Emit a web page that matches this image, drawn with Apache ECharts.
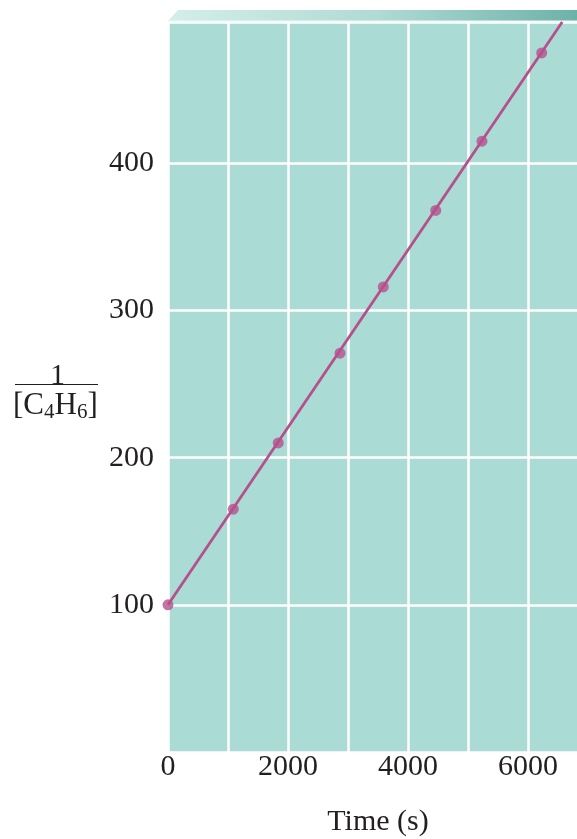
<!DOCTYPE html>
<html>
<head>
<meta charset="utf-8">
<style>
  html, body { margin: 0; padding: 0; background: #ffffff; }
  #chart { width: 577px; height: 839px; }
</style>
<script src="https://cdn.jsdelivr.net/npm/echarts@6/dist/echarts.min.js"></script>
</head>
<body>
<div id="chart"></div>
<script>
// Second-order plot for butadiene dimerisation: 1/[C4H6] against time
const times = [0, 1088, 1838, 2867, 3588, 4462, 5233, 6228];          // s
const inverseConc = [100, 165, 210, 271, 316, 368, 415, 475];         // 1/M
const fitLine = [[0, 100], [6570, 496]];                              // least-squares line
const xTickLabels = ['0', '2000', '4000', '6000'];
const yTickLabels = ['100', '200', '300', '400'];

const points = times.map((t, i) => [t, inverseConc[i]]);

const plotLeft = 168, plotTop = 22, plotWidth = 420, plotHeight = 730;
const ink = '#231f20';
const serif = '"Liberation Serif", "DejaVu Serif", serif';
const magenta = '#b5508c';

const chart = echarts.init(document.getElementById('chart'), null, { renderer: 'canvas' });

chart.setOption({
  animation: false,
  backgroundColor: '#ffffff',
  grid: {
    left: plotLeft, top: plotTop, width: plotWidth, height: plotHeight,
    containLabel: false, outerBoundsMode: 'none',
    show: true, backgroundColor: '#aadbd5', borderWidth: 0
  },
  xAxis: {
    type: 'value', min: 0, max: 7000, interval: 1000,
    axisLine: { show: false }, axisTick: { show: false },
    splitLine: { show: true, lineStyle: { color: '#ffffff', width: 2.5 } },
    axisLabel: {
      margin: 0, color: ink, fontFamily: serif, fontSize: 30,
      formatter: v => (xTickLabels.includes(String(v)) ? String(v) : '')
    },
    name: 'Time (s)', nameLocation: 'middle', nameGap: 55,
    nameTextStyle: { color: ink, fontFamily: serif, fontSize: 30 }
  },
  yAxis: {
    type: 'value', min: 0, max: 496, interval: 100,
    axisLine: { show: false }, axisTick: { show: false },
    splitLine: { show: true, lineStyle: { color: '#ffffff', width: 2.5 } },
    axisLabel: {
      margin: 14, color: ink, fontFamily: serif, fontSize: 30,
      formatter: v => (yTickLabels.includes(String(v)) ? String(v) : '')
    }
  },
  graphic: [
    // bevelled top edge of the panel
    {
      type: 'polygon', z: 1,
      shape: { points: [[plotLeft, plotTop - 1], [plotLeft + 10, 10], [590, 10], [590, plotTop - 1]] },
      style: {
        fill: new echarts.graphic.LinearGradient(0, 0, 1, 0, [
          { offset: 0, color: '#d4eeea' },
          { offset: 0.5, color: '#b0dad4' },
          { offset: 1, color: '#68afa5' }
        ])
      }
    },
    {
      type: 'line', z: 2,
      shape: { x1: plotLeft, y1: plotTop - 0.5, x2: 590, y2: plotTop - 0.5 },
      style: { stroke: '#f2faf8', lineWidth: 2 }
    },
    // y-axis title as a fraction: 1 / [C4H6]
    {
      type: 'text', z: 5, left: 50, top: 361,
      style: { text: '1', fill: ink, font: '30px ' + serif }
    },
    {
      type: 'line', z: 5,
      shape: { x1: 15, y1: 384.5, x2: 98, y2: 384.5 },
      style: { stroke: ink, lineWidth: 1.2 }
    },
    {
      type: 'text', z: 5, left: 13, top: 390,
      style: {
        text: '{n|[C}{s|4}{n|H}{s|6}{n|]}',
        rich: {
          n: { fill: ink, font: '31px ' + serif, verticalAlign: 'bottom', height: 36 },
          s: { fill: ink, font: '21px ' + serif, verticalAlign: 'bottom', height: 22 }
        }
      }
    }
  ],
  series: [
    {
      type: 'line', data: fitLine, showSymbol: false, symbol: 'none',
      lineStyle: { color: magenta, width: 2.8 }, z: 3, clip: true, silent: true
    },
    {
      type: 'scatter', data: points, symbol: 'circle', symbolSize: 11,
      itemStyle: { color: magenta }, z: 4, clip: false
    }
  ]
});
</script>
</body>
</html>
